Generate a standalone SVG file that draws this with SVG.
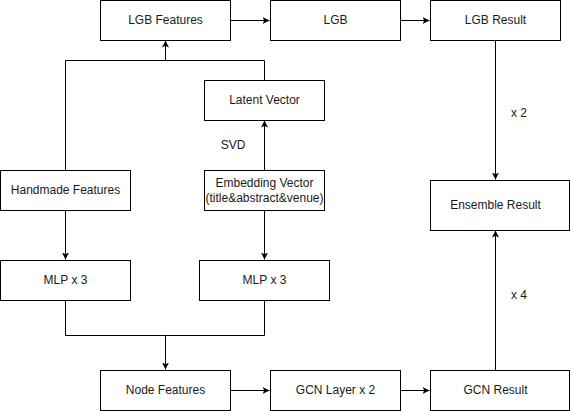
<svg xmlns="http://www.w3.org/2000/svg" width="571" height="411" viewBox="0 0 571 411">
<defs>
<marker id="arr" markerWidth="8" markerHeight="8" refX="7" refY="4" orient="auto" markerUnits="userSpaceOnUse">
<path d="M0,0.5 L7,4 L0,7.5 L1.75,4 Z" fill="#000"/>
</marker>
<style>
.n rect{fill:#fff;stroke:#000;stroke-width:1}
text{font-family:"Liberation Sans",Arial,Helvetica,sans-serif;font-size:12px;fill:#1a1a1a;text-anchor:middle;dominant-baseline:central}
.c path{fill:none;stroke:#000;stroke-width:1;marker-end:url(#arr)}
.c path.nm{marker-end:none}
</style>
</defs>
<rect width="571" height="411" fill="#fff"/>
<g class="c" id="connectors">
<path d="M230.5,20.5 H269.5"/>
<path d="M400.5,20.5 H429.5"/>
<path d="M495.5,40.5 V179.5"/>
<path d="M495.5,370.5 V230.5"/>
<path d="M65.5,170.5 V60.5 H165.5 V40.5"/>
<path class="nm" d="M264.5,80.5 V60.5 H165.5"/>
<path d="M264.5,170.5 V120.5"/>
<path d="M65.5,210.5 V259.5"/>
<path d="M264.5,210.5 V259.5"/>
<path d="M65.5,300.5 V335.5 H165.5 V369.5"/>
<path class="nm" d="M264.5,300.5 V335.5 H165.5"/>
<path d="M230.5,390.5 H269.5"/>
<path d="M400.5,390.5 H429.5"/>
<text x="233" y="145">SVD</text>
<text x="519" y="113">x 2</text>
<text x="519" y="295">x 4</text>
</g>
<g class="n" id="lgb-features"><rect x="100.5" y="0.5" width="130" height="40"/><text x="165.5" y="19.5">LGB Features</text></g>
<g class="n" id="lgb"><rect x="270.5" y="0.5" width="130" height="40"/><text x="335.5" y="19.5">LGB</text></g>
<g class="n" id="lgb-result"><rect x="430.5" y="0.5" width="130" height="40"/><text x="495.5" y="19.5">LGB Result</text></g>
<g class="n" id="latent-vector"><rect x="204.5" y="80.5" width="120" height="40"/><text x="264.5" y="99.5">Latent Vector</text></g>
<g class="n" id="handmade-features"><rect x="0.5" y="170.5" width="130" height="40"/><text x="65.5" y="189.5">Handmade Features</text></g>
<g class="n" id="embedding-vector"><rect x="204.5" y="170.5" width="120" height="40"/><text x="264.5" y="183">Embedding Vector</text><text x="264.5" y="198">(title&amp;abstract&amp;venue)</text></g>
<g class="n" id="ensemble-result"><rect x="430.5" y="180.5" width="139" height="50"/><text x="495.5" y="204.5">Ensemble Result</text></g>
<g class="n" id="mlp-left"><rect x="0.5" y="260.5" width="130" height="40"/><text x="65.5" y="279.5">MLP x 3</text></g>
<g class="n" id="mlp-right"><rect x="199.5" y="260.5" width="130" height="40"/><text x="264.5" y="279.5">MLP x 3</text></g>
<g class="n" id="node-features"><rect x="100.5" y="370.5" width="130" height="40"/><text x="165.5" y="389.5">Node Features</text></g>
<g class="n" id="gcn-layer"><rect x="270.5" y="370.5" width="130" height="40"/><text x="335.5" y="389.5">GCN Layer x 2</text></g>
<g class="n" id="gcn-result"><rect x="430.5" y="370.5" width="139" height="40"/><text x="495.5" y="389.5">GCN Result</text></g>
</svg>
